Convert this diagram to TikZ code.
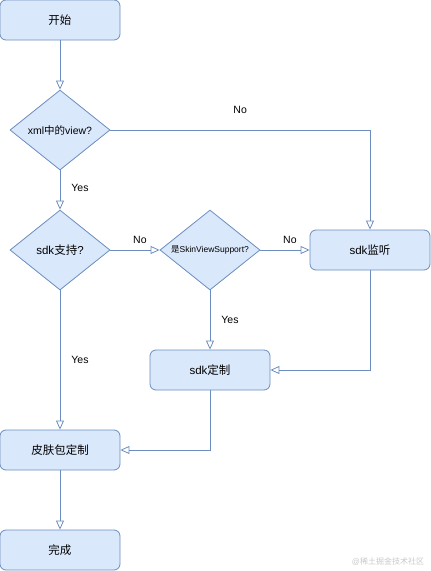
\documentclass[tikz,border=0pt]{standalone}
\usepackage{fontspec}
\setmainfont{Liberation Sans}
\newfontfamily\cjk{Noto Sans CJK SC}
\usetikzlibrary{arrows.meta,shapes.geometric}
\definecolor{boxfill}{HTML}{DAE8FC}
\definecolor{boxline}{HTML}{6C8EBF}
\definecolor{marktext}{HTML}{C8C8C8}
\tikzset{
  stepbox/.style={draw=boxline,fill=boxfill,line width=0.8pt,
                  rounded corners=6pt,minimum width=120pt,minimum height=40pt,
                  align=center,inner sep=2pt,font=\fontsize{11.5}{13}\selectfont},
  choice/.style={draw=boxline,fill=boxfill,line width=0.8pt,diamond,
                 minimum width=100pt,minimum height=80pt,inner sep=0pt,
                 align=center,font=\fontsize{11}{13}\selectfont},
  flowarr/.style={-{Triangle[open,length=9pt,width=8pt]},draw=boxline,line width=0.8pt},
  lbl/.style={font=\fontsize{10.5}{12}\selectfont,inner sep=1pt}
}
\begin{document}
\begin{tikzpicture}[x=1pt,y=-1pt]
  \useasboundingbox (0,0) rectangle (431,571);

  % Boxes
  \node[stepbox] (start) at (60,20) {\cjk 开始};
  \node[stepbox] (listen) at (370,250) {sdk{\cjk 监听}};
  \node[stepbox] (custom) at (210,370) {sdk{\cjk 定制}};
  \node[stepbox] (skin) at (60,450) {\cjk 皮肤包定制};
  \node[stepbox] (done) at (60,550) {\cjk 完成};

  % Decisions
  \node[choice,font=\fontsize{10.5}{12}\selectfont] (q1) at (60,130) {\makebox[0pt]{xml{\cjk 中的}view?}};
  \node[choice,font=\fontsize{11.5}{13}\selectfont] (q2) at (60,250) {sdk{\cjk 支持}?};
  \node[choice,font=\fontsize{8.5}{10}\selectfont] (q3) at (210,250) {\makebox[0pt]{{\cjk 是}SkinViewSupport?}};

  % Connectors
  \draw[flowarr] (start) -- (q1);
  \draw[flowarr] (q1.east) -| node[lbl,pos=0.25,yshift=20pt] {No} (listen.north);
  \draw[flowarr] (q1) -- node[lbl,pos=0.45,xshift=20pt] {Yes} (q2);
  \draw[flowarr] (q2) -- node[lbl,pos=0.6,yshift=10pt] {No} (q3);
  \draw[flowarr] (q3) -- node[lbl,pos=0.6,yshift=10pt] {No} (listen);
  \draw[flowarr] (q3) -- node[lbl,pos=0.5,xshift=20pt] {Yes} (custom);
  \draw[flowarr] (q2) -- node[lbl,pos=0.5,xshift=20pt] {Yes} (skin);
  \draw[flowarr] (listen.south) |- (custom.east);
  \draw[flowarr] (custom.south) |- (skin.east);
  \draw[flowarr] (skin) -- (done);

  % Watermark
  \node[text=marktext,font=\fontsize{8}{9}\selectfont,inner sep=0pt] (mark) at (388,562) {@{\cjk 稀土掘金技术社区}};
\end{tikzpicture}
\end{document}
